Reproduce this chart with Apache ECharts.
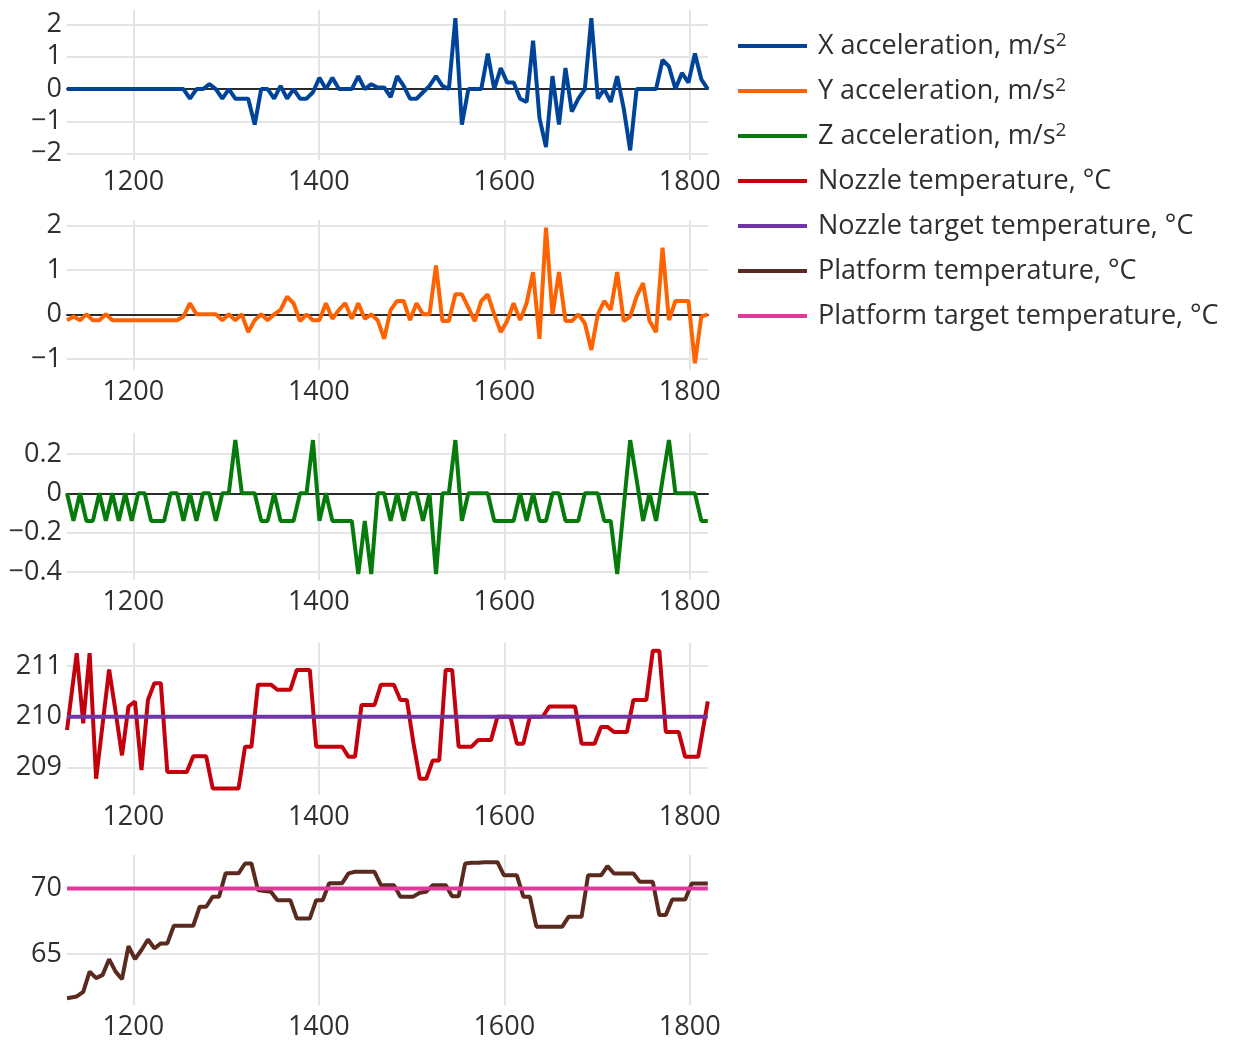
<!DOCTYPE html>
<html>
<head>
<meta charset="utf-8">
<script src="https://cdn.jsdelivr.net/npm/echarts@6/dist/echarts.min.js"></script>
<style>
  html, body { margin: 0; padding: 0; background: #fff; }
  #chart { width: 1236px; height: 1043px; }
</style>
</head>
<body>
<div id="chart"></div>
<script>
// time stamps of the acceleration samples
const accTime = [1128.5, 1135.5, 1142.5, 1149.4, 1156.4, 1163.4, 1170.4, 1177.4, 1184.3, 1191.3,
  1198.3, 1205.3, 1212.3, 1219.2, 1226.2, 1233.2, 1240.2, 1247.2, 1254.1, 1261.1,
  1268.1, 1275.1, 1282.1, 1289.0, 1296.0, 1303.0, 1310.0, 1317.0, 1323.9, 1330.9,
  1337.9, 1344.9, 1351.9, 1358.8, 1365.8, 1372.8, 1379.8, 1386.8, 1393.7, 1400.7,
  1407.7, 1414.7, 1421.7, 1428.6, 1435.6, 1442.6, 1449.6, 1456.6, 1463.5, 1470.5,
  1477.5, 1484.5, 1491.5, 1498.4, 1505.4, 1512.4, 1519.4, 1526.4, 1533.3, 1540.3,
  1547.3, 1554.3, 1561.3, 1568.2, 1575.2, 1582.2, 1589.2, 1596.2, 1603.1, 1610.1,
  1617.1, 1624.1, 1631.1, 1638.0, 1645.0, 1652.0, 1659.0, 1666.0, 1672.9, 1679.9,
  1686.9, 1693.9, 1700.9, 1707.8, 1714.8, 1721.8, 1728.8, 1735.8, 1742.7, 1749.7,
  1756.7, 1763.7, 1770.7, 1777.6, 1784.6, 1791.6, 1798.6, 1805.6, 1812.5, 1819.5];

// time stamps of the temperature samples
const tempTime = [1128.5, 1139.0, 1146.0, 1152.9, 1159.9, 1166.9, 1173.9, 1180.9, 1187.8, 1194.8,
  1201.8, 1208.8, 1215.8, 1222.7, 1229.7, 1236.7, 1243.7, 1250.7, 1257.6, 1264.6,
  1271.6, 1278.6, 1285.6, 1292.5, 1299.5, 1306.5, 1313.5, 1320.5, 1327.4, 1334.4,
  1341.4, 1348.4, 1355.4, 1362.3, 1369.3, 1376.3, 1383.3, 1390.3, 1397.2, 1404.2,
  1411.2, 1418.2, 1425.2, 1432.1, 1439.1, 1446.1, 1453.1, 1460.1, 1467.0, 1474.0,
  1481.0, 1488.0, 1495.0, 1501.9, 1508.9, 1515.9, 1522.9, 1529.9, 1536.8, 1543.8,
  1550.8, 1557.8, 1564.8, 1571.7, 1578.7, 1585.7, 1592.7, 1599.7, 1606.6, 1613.6,
  1620.6, 1627.6, 1634.6, 1641.5, 1648.5, 1655.5, 1662.5, 1669.5, 1676.4, 1683.4,
  1690.4, 1697.4, 1704.4, 1711.3, 1718.3, 1725.3, 1732.3, 1739.3, 1746.2, 1753.2,
  1760.2, 1767.2, 1774.2, 1781.1, 1788.1, 1795.1, 1802.1, 1809.1, 1819.5];

const targetTime = [1128.5, 1819.5];

const xAcc = [0, 0, 0, 0, 0, 0, 0, 0, 0, 0,
  0, 0, 0, 0, 0, 0, 0, 0, 0, -0.3,
  0, 0, 0.15, 0, -0.3, 0, -0.3, -0.3, -0.3, -1.1,
  0, 0, -0.3, 0.1, -0.3, 0, -0.3, -0.3, -0.1, 0.35,
  0, 0.35, 0, 0, 0, 0.4, 0, 0.15, 0.05, 0.05,
  -0.25, 0.4, 0.1, -0.3, -0.3, -0.1, 0.1, 0.4, 0.1, 0,
  2.2, -1.1, 0, 0, 0, 1.1, 0, 0.65, 0.2, 0.2,
  -0.3, -0.4, 1.5, -0.9, -1.8, 0.4, -1.1, 0.65, -0.7, -0.3,
  0, 2.2, -0.3, 0, -0.4, 0.4, -0.6, -1.9, 0, 0,
  0, 0, 0.9, 0.7, 0, 0.5, 0.2, 1.1, 0.3, 0];

const yAcc = [-0.13, -0.05, -0.13, 0, -0.13, -0.13, 0, -0.13, -0.13, -0.13,
  -0.13, -0.13, -0.13, -0.13, -0.13, -0.13, -0.13, -0.13, -0.05, 0.25,
  0, 0, 0, 0, -0.13, 0, -0.13, 0, -0.4, -0.13,
  0, -0.13, 0, 0.1, 0.4, 0.25, -0.15, 0, -0.13, -0.13,
  0.25, -0.1, 0.1, 0.25, -0.1, 0.25, -0.1, 0, -0.13, -0.55,
  0.1, 0.3, 0.3, -0.13, 0.25, 0, 0, 1.1, -0.15, -0.15,
  0.45, 0.45, 0.15, -0.15, 0.3, 0.45, 0, -0.4, -0.15, 0.25,
  -0.13, 0.25, 0.95, -0.55, 1.95, 0, 0.95, -0.15, -0.15, 0,
  -0.2, -0.8, 0, 0.3, 0.1, 0.95, -0.15, -0.05, 0.4, 0.7,
  -0.15, -0.4, 1.5, -0.13, 0.3, 0.3, 0.3, -1.1, -0.05, 0];

const zAcc = [0, -0.14, 0, -0.14, -0.14, 0, -0.14, 0, -0.14, 0,
  -0.14, 0, 0, -0.14, -0.14, -0.14, 0, 0, -0.14, 0,
  -0.14, 0, 0, -0.14, 0, 0, 0.27, 0, 0, 0,
  -0.14, -0.14, 0, -0.14, -0.14, -0.14, 0, 0, 0.27, -0.14,
  0, -0.14, -0.14, -0.14, -0.14, -0.41, -0.14, -0.41, 0, 0,
  -0.14, 0, -0.14, 0, 0, -0.14, 0, -0.41, 0, 0,
  0.27, -0.14, 0, 0, 0, 0, -0.14, -0.14, -0.14, -0.14,
  0, -0.14, 0, -0.14, -0.14, 0, 0, -0.14, -0.14, -0.14,
  0, 0, 0, -0.14, -0.14, -0.41, -0.07, 0.27, 0.07, -0.14,
  0, -0.14, 0.07, 0.27, 0, 0, 0, 0, -0.14, -0.14];

const nozzleTemp = [209.74, 211.25, 209.87, 211.25, 208.78, 209.85, 210.93, 210.1, 209.24, 210.2,
  210.3, 208.95, 210.33, 210.66, 210.66, 208.91, 208.91, 208.91, 208.91, 209.22,
  209.22, 209.22, 208.59, 208.59, 208.59, 208.59, 208.59, 209.41, 209.41, 210.63,
  210.63, 210.63, 210.53, 210.53, 210.53, 210.92, 210.92, 210.92, 209.41, 209.41,
  209.41, 209.41, 209.41, 209.21, 209.21, 210.23, 210.23, 210.23, 210.63, 210.63,
  210.63, 210.33, 210.33, 209.5, 208.78, 208.78, 209.14, 209.14, 210.92, 210.92,
  209.41, 209.41, 209.41, 209.54, 209.54, 209.54, 210.0, 210.0, 210.0, 209.47,
  209.47, 210.0, 210.0, 210.0, 210.2, 210.2, 210.2, 210.2, 210.2, 209.47,
  209.47, 209.47, 209.8, 209.8, 209.7, 209.7, 209.7, 210.33, 210.33, 210.33,
  211.3, 211.3, 209.7, 209.7, 209.7, 209.21, 209.21, 209.21, 210.3];

const nozzleTarget = [210, 210];

const platformTemp = [61.62, 61.75, 62.1, 63.65, 63.15, 63.4, 64.6, 63.65, 63.07, 65.6,
  64.6, 65.3, 66.1, 65.43, 65.8, 65.8, 67.15, 67.15, 67.15, 67.15,
  68.6, 68.6, 69.37, 69.37, 71.15, 71.15, 71.15, 71.9, 71.9, 69.87,
  69.8, 69.75, 69.1, 69.1, 69.1, 67.7, 67.7, 67.7, 69.1, 69.1,
  70.4, 70.4, 70.4, 71.15, 71.27, 71.27, 71.27, 71.27, 70.25, 70.25,
  70.25, 69.37, 69.37, 69.37, 69.67, 69.75, 70.25, 70.25, 70.25, 69.4,
  69.4, 71.9, 71.95, 71.95, 72.0, 72.0, 72.0, 71.0, 71.0, 71.0,
  69.37, 69.37, 67.08, 67.08, 67.08, 67.08, 67.08, 67.84, 67.84, 67.84,
  71.0, 71.0, 71.0, 71.7, 71.14, 71.14, 71.14, 71.14, 70.5, 70.5,
  70.5, 67.97, 67.97, 69.16, 69.16, 69.16, 70.38, 70.38, 70.38];

const platformTarget = [70, 70];

const seriesNames = [
  'X acceleration, m/s²',
  'Y acceleration, m/s²',
  'Z acceleration, m/s²',
  'Nozzle temperature, °C',
  'Nozzle target temperature, °C',
  'Platform temperature, °C',
  'Platform target temperature, °C'
];
const colors = ['#00449a', '#ff6200', '#077a0c', '#c4000c', '#6f35a6', '#5b2a1f', '#e0399c'];

const xRange = [1128.5, 1819.7];

// subplot layout and y ranges
const panels = [
  { top: 10, height: 150, min: -2.2, max: 2.45, step: 1, zero: true },
  { top: 220, height: 150, min: -1.25, max: 2.12, step: 1, zero: true },
  { top: 433, height: 147, min: -0.44, max: 0.306, step: 0.2, zero: true },
  { top: 643, height: 152, min: 208.46, max: 211.45, step: 1, zero: false },
  { top: 855, height: 150, min: 61.1, max: 72.55, step: 5, zero: false }
];

const font = 'Open Sans';
const textColor = '#2f2f2f';
const gridColor = '#e4e4e4';

const pairs = (t, v) => v.map((y, k) => [t[k], y]);
const minus = v => String(Math.round(v * 1000) / 1000).replace('-', '\u2212');

const grids = [], xAxes = [], yAxes = [];
panels.forEach((p, k) => {
  grids.push({ left: 67, width: 641, top: p.top, height: p.height });
  xAxes.push({
    type: 'value', gridIndex: k, min: xRange[0], max: xRange[1],
    minInterval: 200, maxInterval: 200,
    axisLine: { show: false, onZero: false },
    axisTick: { show: false },
    axisLabel: { fontFamily: font, fontSize: 27, color: textColor, margin: 9,
      showMinLabel: false, showMaxLabel: false, formatter: v => String(v) },
    splitLine: { show: true, showMinLine: false, showMaxLine: false,
      lineStyle: { color: gridColor, width: 2 } }
  });
  yAxes.push({
    type: 'value', gridIndex: k, min: p.min, max: p.max,
    minInterval: p.step, maxInterval: p.step,
    axisLine: { show: false },
    axisTick: { show: false },
    axisLabel: { fontFamily: font, fontSize: 27, color: textColor, margin: 5,
      showMinLabel: false, showMaxLabel: false, formatter: minus },
    splitLine: { show: true, showMinLine: false, showMaxLine: false,
      lineStyle: { color: gridColor, width: 2 } }
  });
});
// zero lines: extra x axes sitting on y = 0
panels.forEach((p, k) => {
  if (!p.zero) return;
  xAxes.push({
    type: 'value', gridIndex: k, min: xRange[0], max: xRange[1], position: 'bottom',
    axisLine: { show: true, onZero: true, lineStyle: { color: '#2a2a2a', width: 2 } },
    axisTick: { show: false }, axisLabel: { show: false }, splitLine: { show: false }
  });
});

function line(idx, axis, data) {
  return {
    name: seriesNames[idx], type: 'line', xAxisIndex: axis, yAxisIndex: axis,
    data: data, showSymbol: false, symbol: 'none', z: 3,
    lineStyle: { color: colors[idx], width: 4 }, itemStyle: { color: colors[idx] }
  };
}

const myChart = echarts.init(document.getElementById('chart'));
myChart.setOption({
  animation: false,
  backgroundColor: '#fff',
  grid: grids,
  xAxis: xAxes,
  yAxis: yAxes,
  legend: {
    orient: 'vertical', left: 733, top: 26,
    icon: 'rect', itemWidth: 69, itemHeight: 4, itemGap: 15,
    formatter: name => name.replace('²', '{sup|2}'),
    textStyle: { fontFamily: font, fontSize: 27, color: textColor, lineHeight: 30, padding: [0, 0, 0, 6],
      rich: { sup: { fontFamily: font, fontSize: 19, color: textColor, lineHeight: 18, verticalAlign: 'top' } } },
    data: seriesNames
  },
  series: [
    line(0, 0, pairs(accTime, xAcc)),
    line(1, 1, pairs(accTime, yAcc)),
    line(2, 2, pairs(accTime, zAcc)),
    line(3, 3, pairs(tempTime, nozzleTemp)),
    line(4, 3, pairs(targetTime, nozzleTarget)),
    line(5, 4, pairs(tempTime, platformTemp)),
    line(6, 4, pairs(targetTime, platformTarget))
  ]
});
</script>
</body>
</html>
